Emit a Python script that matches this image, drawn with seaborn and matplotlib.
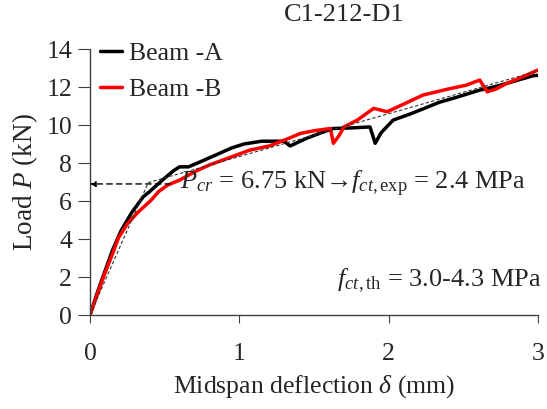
import numpy as np
import pandas as pd
import matplotlib
matplotlib.use("Agg")
import matplotlib.pyplot as plt
import seaborn as sns

# ---- data ----
beam_a_x = [0, 0.05, 0.10, 0.15, 0.21, 0.28, 0.357, 0.40, 0.435, 0.50, 0.56, 0.60, 0.66, 0.74,
            0.85, 0.95, 1.03, 1.15, 1.25, 1.30, 1.34, 1.45, 1.55, 1.63, 1.75, 1.875, 1.91,
            1.95, 2.03, 2.15, 2.34, 2.45, 2.61, 2.70, 2.79, 2.88, 2.97, 3.0]
beam_a_y = [0, 1.2, 2.3, 3.4, 4.47, 5.4, 6.23, 6.5, 6.75, 7.2, 7.6, 7.8, 7.8, 8.07,
            8.45, 8.8, 9.0, 9.15, 9.15, 9.15, 8.9, 9.3, 9.6, 9.82, 9.85, 9.9, 9.04,
            9.6, 10.26, 10.6, 11.2, 11.45, 11.84, 12.0, 12.19, 12.4, 12.6, 12.62]

beam_b_x = [0, 0.05, 0.10, 0.15, 0.19, 0.25, 0.32, 0.41, 0.46, 0.52, 0.60, 0.70, 0.80, 0.95,
            1.07, 1.20, 1.30, 1.41, 1.50, 1.61, 1.63, 1.67, 1.70, 1.79, 1.90, 1.99, 2.10,
            2.23, 2.40, 2.52, 2.61, 2.66, 2.72, 2.79, 2.90, 3.0]
beam_b_y = [0, 1.1, 2.2, 3.2, 4.05, 4.8, 5.4, 6.05, 6.5, 6.84, 7.1, 7.54, 7.9, 8.33,
            8.68, 8.9, 9.2, 9.56, 9.7, 9.82, 9.04, 9.47, 9.9, 10.26, 10.88, 10.7, 11.1,
            11.58, 11.9, 12.1, 12.37, 11.75, 11.9, 12.19, 12.55, 12.9]

fit_x = [0, 0.39, 3.0]
fit_y = [0, 6.97, 12.85]

p_cr = 6.9
arrow_start_x = 0.54

series_names = ["Beam -A", "Beam -B"]
colors = ["black", "red"]

df = pd.concat([
    pd.DataFrame({"x": beam_a_x, "y": beam_a_y, "beam": series_names[0]}),
    pd.DataFrame({"x": beam_b_x, "y": beam_b_y, "beam": series_names[1]}),
])

sns.set_style("ticks")
plt.rcParams["font.family"] = ["Liberation Serif", "DejaVu Serif"]
plt.rcParams["mathtext.fontset"] = "custom"
plt.rcParams["mathtext.rm"] = "Liberation Serif"
plt.rcParams["mathtext.it"] = "Liberation Serif:italic"
plt.rcParams["mathtext.bf"] = "Liberation Serif:bold"

fig = plt.figure(figsize=(5.47, 4.09), dpi=100)
ax = fig.add_axes([0.1645, 0.2298, 0.819, 0.6502])

sns.lineplot(data=df, x="x", y="y", hue="beam", palette=colors, sort=False,
             estimator=None, units="beam", linewidth=2.5, ax=ax)

ax.plot(fit_x, fit_y, linestyle=(0, (3, 2)), color="#333333", linewidth=0.8, zorder=5)
ax.annotate("", xy=(0.0, p_cr), xytext=(arrow_start_x, p_cr),
            arrowprops=dict(arrowstyle="-|>", linestyle=(0, (4, 3)), color="black",
                            lw=1.0, mutation_scale=8, shrinkA=0, shrinkB=0))

ax.set_xlim(0, 3)
ax.set_ylim(0, 14)
ax.set_xticks([0, 1, 2, 3])
ax.set_yticks(range(0, 15, 2))
sns.despine(ax=ax)
for s in ["left", "bottom"]:
    ax.spines[s].set_color("#404040")
    ax.spines[s].set_linewidth(1.0)
ax.tick_params(axis="both", labelsize=18.5, direction="out", color="#404040")
ax.tick_params(axis="x", length=6, pad=14)
ax.tick_params(axis="y", length=9, pad=4)

ax.set_xlabel(r"Midspan deflection $\delta$ (mm)", fontsize=18.5, labelpad=6)
ax.set_ylabel(r"Load $P$ (kN)", fontsize=19.5)
ax.yaxis.set_label_coords(-(90 - 40) / 448, 0.5)

leg = ax.legend(loc="upper left", frameon=False, fontsize=18.5, handlelength=0.85,
                handletextpad=0.25, labelspacing=0.5, borderaxespad=0.0,
                bbox_to_anchor=(0.0, 1.065))
for line in leg.get_lines():
    line.set_linewidth(2.5)

ax.text(0.6, p_cr, r"$P_{cr}$ = 6.75 kN→$f_{ct,\mathrm{exp}}$ = 2.4 MPa", fontsize=19,
        va="center", ha="left")
ax.text(3.02, 1.8, r"$f_{ct}$$_{,\mathrm{th}}$ = 3.0-4.3 MPa", fontsize=19,
        va="center", ha="right")

fig.text(344 / 547, 1 - 15 / 409, "C1-212-D1", fontsize=19, ha="center", va="center")

fig.savefig("out.png", dpi=100)
